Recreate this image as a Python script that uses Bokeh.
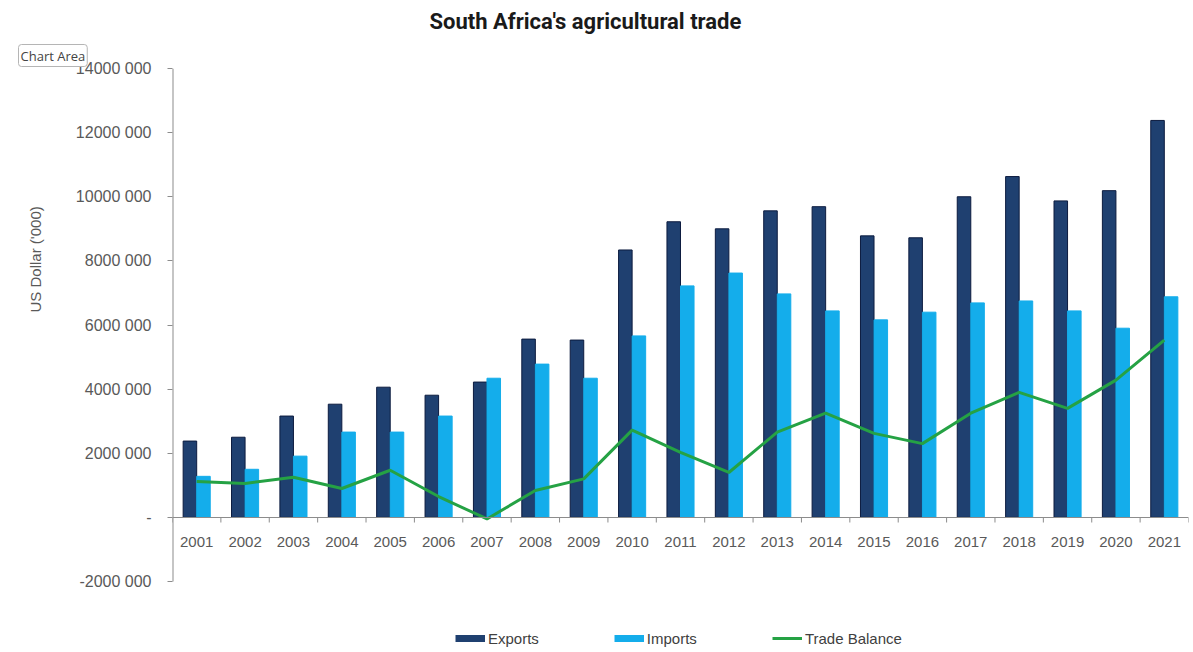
from bokeh.plotting import figure
from bokeh.models import (ColumnDataSource, FactorRange, Range1d, FixedTicker, Legend,
                          LegendItem, Title, LinearAxis, CategoricalAxis)
from bokeh.transform import dodge
from bokeh.embed import file_html
from bokeh.resources import INLINE

# ---------------- data (US Dollar '000) ----------------
years = [str(y) for y in range(2001, 2022)]
exports = [2380000, 2500000, 3160000, 3530000, 4060000, 3810000, 4220000, 5560000, 5530000,
           8340000, 9220000, 9000000, 9560000, 9690000, 8780000, 8720000, 10000000, 10630000,
           9870000, 10190000, 12380000]
imports = [1280000, 1500000, 1910000, 2660000, 2660000, 3160000, 4340000, 4780000, 4340000,
           5660000, 7220000, 7620000, 6970000, 6440000, 6160000, 6400000, 6690000, 6750000,
           6440000, 5900000, 6880000]
balance = [1120000, 1060000, 1250000, 900000, 1470000, 650000, -50000, 840000, 1200000,
           2720000, 2030000, 1400000, 2660000, 3250000, 2620000, 2300000, 3250000, 3900000,
           3400000, 4280000, 5530000]
y_ticks = [-2000000, 0, 2000000, 4000000, 6000000, 8000000, 10000000, 12000000, 14000000]
y_tick_labels = ["-2000 000", "-", "2000 000", "4000 000", "6000 000", "8000 000",
                 "10000 000", "12000 000", "14000 000"]

FONT = "'Liberation Sans', Arial, sans-serif"
GRAY = "#595959"
AXIS = "#8c8c8c"
NAVY = "#1F4070"
LIGHT = "#14ADEB"
GREEN = "#25A244"

src = ColumnDataSource(dict(year=years, exports=exports, imports=imports, balance=balance))

# frame: top at 14 000 000 (y=68), scale kept so that -2 000 000 sits at y=581,
# frame extended to the bottom of the picture to hold the legend
Y_MIN = -2000000 - (652 - 581) / (581 - 68) * 16000000

p = figure(width=1193, height=652, output_backend="svg", toolbar_location=None, title=None,
           x_range=FactorRange(factors=years), y_range=Range1d(Y_MIN, 14000000),
           x_axis_location=None, y_axis_location=None,
           min_border_left=172, min_border_right=5, min_border_top=68, min_border_bottom=0,
           outline_line_color=None, background_fill_color="white", border_fill_color="white")
p.grid.visible = False

chart_area = Title(text="Chart Area", align="left", offset=-154, vertical_align="top",
                   text_font="'Open Sans'", text_font_size="13px", text_font_style="normal",
                   text_color="#444444", background_fill_color="white",
                   border_line_color="#b5b5b5", border_radius=3, padding=2, standoff=0)
p.add_layout(chart_area, "above")
main_title = Title(text="South Africa's agricultural trade", align="left", offset=257,
                   vertical_align="top", text_font="Roboto", text_font_style="bold",
                   text_font_size="22px", text_color="#1a1a1a", standoff=17)
p.add_layout(main_title, "above")

r_exp = p.vbar(x=dodge("year", -0.14, range=p.x_range), top="exports", width=0.28, source=src,
               fill_color=NAVY, line_color="#0C1B3F", line_width=1)
r_imp = p.vbar(x=dodge("year", 0.14, range=p.x_range), top="imports", width=0.28, source=src,
               fill_color=LIGHT, line_color=LIGHT, line_width=1)
r_bal = p.line(x="year", y="balance", source=src, line_color=GREEN, line_width=3)

# y axis line (from -2 000 000 to 14 000 000) at the left edge of the categories
p.segment(x0=dodge("year", -0.5, range=p.x_range), y0=-2000000,
          x1=dodge("year", -0.5, range=p.x_range), y1=14000000,
          source=ColumnDataSource(dict(year=years[:1])), line_color=AXIS, line_width=2)

# category boundary tick marks of the x axis
p.segment(x0=dodge("year", -0.5, range=p.x_range), y0=0,
          x1=dodge("year", -0.5, range=p.x_range), y1=-160000, source=src,
          line_color=AXIS, line_width=1)
p.segment(x0=dodge("year", 0.5, range=p.x_range), y0=0,
          x1=dodge("year", 0.5, range=p.x_range), y1=-160000,
          source=ColumnDataSource(dict(year=years[-1:])), line_color=AXIS, line_width=1)

yax = LinearAxis(ticker=FixedTicker(ticks=y_ticks),
                 major_label_overrides={t: l for t, l in zip(y_ticks, y_tick_labels)},
                 axis_line_color=None, major_tick_line_color=AXIS, major_tick_out=5,
                 major_tick_in=0, minor_tick_line_color=None,
                 major_label_text_font=FONT, major_label_text_font_size="16px",
                 major_label_text_color=GRAY, major_label_standoff=16)
p.add_layout(yax, "left")

ylab = Title(text="US Dollar ('000)", align="left", offset=340, vertical_align="top",
             text_font=FONT, text_font_size="15px", text_font_style="normal",
             text_color=GRAY, standoff=53)
p.add_layout(ylab, "left")

xax = CategoricalAxis(fixed_location=0, axis_line_color=AXIS, major_tick_line_color=None,
                      minor_tick_line_color=None, major_label_text_font=FONT,
                      major_label_text_font_size="15px", major_label_text_color=GRAY,
                      major_label_standoff=14)
p.add_layout(xax, "below")

# legend swatches
sw_exp = p.line(x=years[:2], y=[float("nan")] * 2, line_color=NAVY, line_width=7)
sw_imp = p.line(x=years[:2], y=[float("nan")] * 2, line_color=LIGHT, line_width=7)

legend = Legend(items=[LegendItem(label="Exports", renderers=[sw_exp]),
                       LegendItem(label="Imports", renderers=[sw_imp]),
                       LegendItem(label="Trade Balance", renderers=[r_bal])],
                orientation="horizontal", location=(283, 4), padding=0, margin=0,
                spacing=75, glyph_width=30, glyph_height=20, label_height=20,
                label_standoff=3,
                label_text_font=FONT, label_text_font_size="15px", label_text_color="#404040",
                border_line_color=None, background_fill_alpha=0)
p.add_layout(legend, "center")

open("out.html", "w").write(file_html(p, INLINE))
